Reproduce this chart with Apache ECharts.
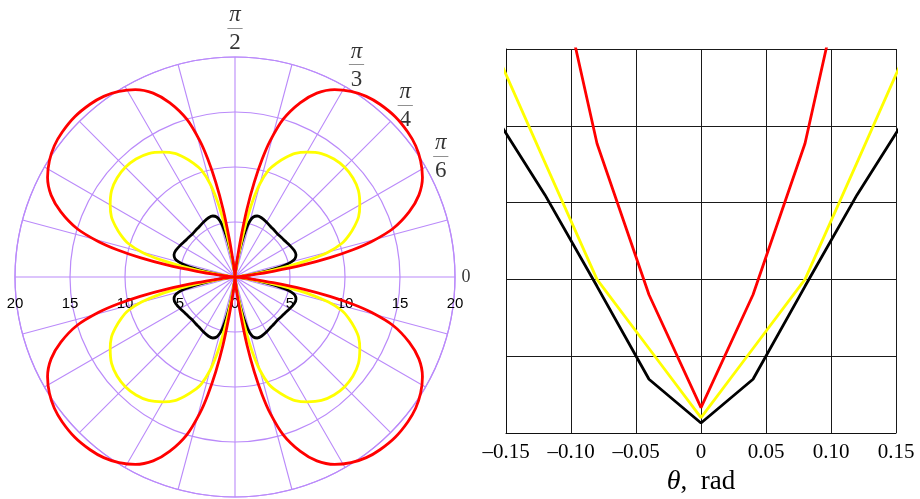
<!DOCTYPE html>
<html>
<head>
<meta charset="utf-8">
<script src="https://cdn.jsdelivr.net/npm/echarts@6/dist/echarts.min.js"></script>
<style>
  html, body { margin: 0; padding: 0; background: #fff; }
  #chart { width: 920px; height: 499px; }
</style>
</head>
<body>
<div id="chart"></div>
<script>
// ---- Polar lobes: [angle in degrees, radius] over half a petal (0°..45°).
// Each petal is symmetric about its 45° diagonal and the plot about both axes.
const redLobe = [
  [0, 0], [5, 0.4], [7, 1.5], [8.5, 3.5], [10, 6.3], [11.5, 8.8], [13, 11],
  [14.5, 12.8], [17, 15], [20.5, 16.9], [24, 18.3], [28, 19.3], [32, 19.9],
  [36, 20.3], [40, 20.5], [45, 20.6]
];
const yellowLobe = [
  [0, 0], [6, 0.3], [8, 1.2], [10, 3], [11.5, 5], [13, 7], [15, 8.8],
  [17.5, 10.2], [20, 11], [23, 11.8], [26, 12.5], [30, 13.1], [35, 13.7],
  [40, 14.0], [45, 14.1]
];
const blackLobe = [
  [0, 0], [5, 0.3], [7.5, 1.2], [10, 2.5], [12, 3.8], [13.5, 4.7], [15, 5.3],
  [17, 5.7], [20, 5.9], [24, 5.9], [30, 5.75], [36, 5.6], [40, 5.55], [45, 5.5]
];

// Angle-axis tick labels
const angleTicks = [0, 30, 45, 60, 90];
const angleTickLabels = ['0', 'π/6', 'π/4', 'π/3', 'π/2'];

// ---- Right panel: θ (rad) against the three curves close to θ = 0
const thetaValues = [-0.16, -0.12, -0.08, -0.04, 0, 0.04, 0.08, 0.12, 0.16];
const redNear    = [null, 6.8, 3.77, 1.80, 0.33, 1.80, 3.77, 6.8, null];
const yellowNear = [5.05, 3.52, 2.0, 1.10, 0.2, 1.10, 2.0, 3.52, 5.05];
const blackNear  = [4.17, 3.10, 1.91, 0.70, 0.13, 0.70, 1.91, 3.10, 4.17];

// ---- layout
const CX = 235, CY = 277, R = 220;          // polar grid: 20 units over R px
const RMAX = 20, RMAX_FREE = 24;            // second, unclipped polar frame
const gridColor = 'rgb(186,138,250)';
const lineW = 2.8;
// distance (in radius units) at which each angle label is centred
const angleLabelRadius = [21.0, 21.6, 21.9, 22.1, 22.45];

// Mirror a half petal into a full closed four-petal curve: [radius, angle]
function fullCurve(half) {
  const quarter = half.concat(
    half.slice(0, -1).reverse().map(([a, r]) => [90 - a, r])
  );
  const pts = [];
  for (let q = 0; q < 4; q++) {
    const seq = q % 2 === 0 ? quarter : quarter.slice().reverse();
    seq.forEach(([a, r]) => {
      const ang = q % 2 === 0 ? q * 90 + a : (q + 1) * 90 - a;
      pts.push([r, ang]);
    });
  }
  return pts;
}

function fractionText(s) {
  if (s.indexOf('/') < 0) return '{z|' + s + '}';
  const [num, den] = s.split('/');
  return '{p|' + num + '}\n{b|—}\n{d|' + den + '}';
}

function thetaLabel(v) {
  if (Math.abs(v) < 1e-9) return '0';
  return (v < 0 ? '–' : '') + Math.abs(v).toFixed(2);
}

const serif = 'Liberation Serif, Times New Roman, serif';

const chart = echarts.init(document.getElementById('chart'), null, { renderer: 'canvas' });

const polarLine = (name, half, color) => ({
  name,
  type: 'line',
  coordinateSystem: 'polar',
  polarIndex: 1,
  data: fullCurve(half),
  showSymbol: false,
  symbol: 'none',
  smooth: 0.25,
  clip: false,
  silent: true,
  animation: false,
  lineStyle: { color, width: lineW },
  z: 3
});

const nearLine = (name, values, color) => ({
  name,
  type: 'line',
  xAxisIndex: 1,
  yAxisIndex: 1,
  data: thetaValues.map((t, i) => [t, values[i]]),
  showSymbol: false,
  symbol: 'none',
  silent: true,
  animation: false,
  lineStyle: { color, width: lineW },
  z: 3
});

const hiddenAngle = {
  polarIndex: 1, type: 'value', min: 0, max: 360, startAngle: 0, clockwise: false,
  axisLine: { show: false }, axisTick: { show: false }, axisLabel: { show: false },
  splitLine: { show: false }
};
const hiddenRadius = {
  polarIndex: 1, type: 'value', min: 0, max: RMAX_FREE,
  axisLine: { show: false }, axisTick: { show: false }, axisLabel: { show: false },
  splitLine: { show: false }
};

chart.setOption({
  backgroundColor: '#fff',
  animation: false,
  polar: [
    { center: [CX, CY], radius: R },
    { center: [CX, CY], radius: R * RMAX_FREE / RMAX }
  ],
  angleAxis: [
    {
      polarIndex: 0,
      type: 'value', min: 0, max: 360, interval: 15,
      startAngle: 0, clockwise: false,
      axisLine: { show: true, lineStyle: { color: gridColor, width: 1.2 } },
      axisTick: { show: false },
      axisLabel: { show: false },
      splitLine: { show: true, lineStyle: { color: gridColor, width: 1.1 } }
    },
    hiddenAngle
  ],
  radiusAxis: [
    {
      polarIndex: 0,
      type: 'value', min: 0, max: RMAX, interval: 5,
      axisLine: { show: false },
      axisTick: { show: false },
      axisLabel: { show: false },
      splitLine: { show: true, lineStyle: { color: gridColor, width: 1.2 } }
    },
    hiddenRadius
  ],
  grid: [
    // strip under the polar horizontal diameter, carries the radius labels
    { left: CX - R, width: 2 * R, top: CY - 10, height: 10, outerBoundsMode: 'none', containLabel: false },
    // right panel
    { left: 506, right: 24, top: 49, bottom: 66, outerBoundsMode: 'none', containLabel: false }
  ],
  xAxis: [
    {
      gridIndex: 0, type: 'value', min: -RMAX, max: RMAX, interval: 5,
      axisLine: { show: false }, axisTick: { show: false }, splitLine: { show: false },
      axisLabel: {
        show: true, margin: 19, color: '#000', fontSize: 15,
        fontFamily: 'Liberation Sans, Arial, sans-serif',
        showMinLabel: true, showMaxLabel: true,
        formatter: v => String(Math.abs(v))
      }
    },
    {
      gridIndex: 1, type: 'value', min: -0.15, max: 0.15, interval: 0.05,
      axisLine: { show: true, onZero: false, lineStyle: { color: '#111', width: 1 } },
      axisTick: { show: false },
      splitLine: { show: true, lineStyle: { color: '#1a1a1a', width: 1 } },
      axisLabel: {
        show: true, margin: 9, color: '#000', fontSize: 21, fontFamily: serif,
        showMinLabel: true, showMaxLabel: true,
        formatter: thetaLabel
      },
      name: '{i|θ}{n|,  rad}',
      nameLocation: 'middle',
      nameGap: 33,
      nameTextStyle: {
        rich: {
          i: { fontFamily: serif, fontStyle: 'italic', fontSize: 28, color: '#000' },
          n: { fontFamily: serif, fontSize: 27, color: '#000' }
        }
      }
    }
  ],
  yAxis: [
    { gridIndex: 0, type: 'value', show: false, min: 0, max: 1 },
    {
      gridIndex: 1, type: 'value', min: 0, max: 5, interval: 1,
      axisLine: { show: true, onZero: false, lineStyle: { color: '#111', width: 1 } },
      axisTick: { show: false },
      axisLabel: { show: false },
      splitLine: { show: true, lineStyle: { color: '#1a1a1a', width: 1 } }
    }
  ],
  series: [
    polarLine('black', blackLobe, '#000000'),
    polarLine('yellow', yellowLobe, '#ffff00'),
    polarLine('red', redLobe, '#ff0000'),
    {
      name: 'angleLabels',
      type: 'scatter',
      coordinateSystem: 'polar',
      polarIndex: 1,
      clip: false,
      silent: true,
      animation: false,
      symbolSize: 1,
      itemStyle: { color: 'rgba(0,0,0,0)' },
      data: angleTicks.map((a, i) => [angleLabelRadius[i], a]),
      label: {
        show: true,
        position: 'inside',
        align: 'center',
        verticalAlign: 'middle',
        formatter: p => fractionText(angleTickLabels[p.dataIndex]),
        rich: {
          p: { fontFamily: serif, fontStyle: 'italic', fontSize: 23, lineHeight: 12, color: '#000', align: 'center' },
          b: { fontFamily: serif, fontSize: 15, lineHeight: 14, color: '#444', align: 'center' },
          d: { fontFamily: serif, fontSize: 23, lineHeight: 16, color: '#000', align: 'center' },
          z: { fontFamily: serif, fontSize: 18, color: '#000' }
        }
      },
      z: 1
    },
    nearLine('black', blackNear, '#000000'),
    nearLine('yellow', yellowNear, '#ffff00'),
    nearLine('red', redNear, '#ff0000')
  ]
});
</script>
</body>
</html>
